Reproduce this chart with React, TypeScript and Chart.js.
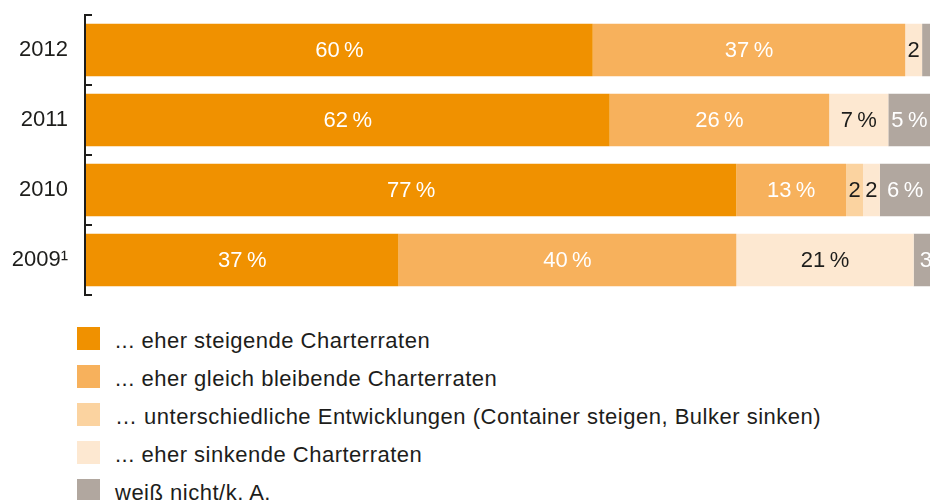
import React, { useEffect, useRef } from "react";
import { Chart, registerables } from "chart.js";

Chart.register(...registerables);

const categories = ["2012", "2011", "2010", "2009\u00B9"];
const seriesNames = [
  "... eher steigende Charterraten",
  "... eher gleich bleibende Charterraten",
  "\u2026 unterschiedliche Entwicklungen (Container steigen, Bulker sinken)",
  "... eher sinkende Charterraten",
  "weiß nicht/k. A.",
];
const rising = [60, 62, 77, 37];
const steady = [37, 26, 13, 40];
const mixed = [0, 0, 2, 0];
const falling = [2, 7, 2, 21];
const unknown = [1, 5, 6, 3];
const xMax = 101;

const seriesValues = [rising, steady, mixed, falling, unknown];
const colors = ["#F09100", "#F7B15C", "#FBD3A0", "#FDE8D1", "#B1A79F"];
const labelColors = ["#ffffff", "#ffffff", "#1d1d1b", "#1d1d1b", "#ffffff"];
const FONT = "'Liberation Sans', Arial, Helvetica, sans-serif";
const TEXT = "#1d1d1b";

const segmentLabels = {
  id: "segmentLabels",
  afterDatasetsDraw(chart: any) {
    const ctx = chart.ctx;
    ctx.save();
    ctx.font = `22px ${FONT}`;
    ctx.textBaseline = "middle";
    chart.data.datasets.forEach((ds: any, di: number) => {
      const meta = chart.getDatasetMeta(di);
      meta.data.forEach((el: any, i: number) => {
        const v = ds.data[i];
        if (!v) return;
        const left = Math.min(el.x, el.base);
        const w = Math.abs(el.x - el.base);
        if (w < 12) return;
        const txt = w < 22 ? String(v) : `${v}\u2009%`;
        const tw = ctx.measureText(txt).width;
        ctx.fillStyle = labelColors[di];
        if (tw + 2 > w) {
          ctx.textAlign = "left";
          ctx.fillText(txt, left + 6, el.y + 1);
        } else {
          ctx.textAlign = "center";
          ctx.fillText(txt, left + w / 2, el.y + 1);
        }
      });
    });
    ctx.restore();
  },
};

const bracket = {
  id: "bracket",
  afterDraw(chart: any) {
    const { ctx, chartArea } = chart;
    const y = chart.scales.y;
    const n = chart.data.labels.length;
    const ys: number[] = [chartArea.top];
    for (let i = 0; i < n - 1; i++) {
      ys.push((y.getPixelForValue(i) + y.getPixelForValue(i + 1)) / 2);
    }
    ys.push(chartArea.bottom);
    const x = chartArea.left - 1;
    ctx.save();
    ctx.strokeStyle = "#1d1d1b";
    ctx.lineWidth = 2;
    ctx.beginPath();
    ctx.moveTo(x, ys[0] - 1);
    ctx.lineTo(x, ys[ys.length - 1] + 1);
    ys.forEach((yy) => {
      ctx.moveTo(x - 1, yy);
      ctx.lineTo(chartArea.left + 6, yy);
    });
    ctx.stroke();
    ctx.restore();
  },
};

export default function App() {
  const ref = useRef<HTMLCanvasElement | null>(null);

  useEffect(() => {
    document.body.style.margin = "0";
    if (!ref.current) return;
    const chart = new Chart(ref.current, {
      type: "bar",
      data: {
        labels: categories,
        datasets: seriesValues.map((vals, i) => ({
          label: seriesNames[i],
          data: vals,
          backgroundColor: colors[i],
          borderWidth: 0,
          barPercentage: 0.75,
          categoryPercentage: 1,
        })),
      },
      options: {
        indexAxis: "y",
        responsive: false,
        animation: false,
        layout: { padding: { top: 15, bottom: 5, left: 0, right: 0 } },
        plugins: {
          legend: { display: false },
          tooltip: { enabled: false },
        },
        scales: {
          x: {
            stacked: true,
            display: false,
            min: 0,
            max: xMax,
          },
          y: {
            stacked: true,
            grid: { display: false, drawTicks: false },
            border: { display: false },
            ticks: {
              padding: 18,
              color: TEXT,
              font: { family: FONT, size: 22 },
            },
            afterFit: (scale: any) => {
              scale.width = 86;
              scale.paddingTop = 0;
              scale.paddingBottom = 0;
            },
          },
        },
      },
      plugins: [segmentLabels, bracket],
    } as any);
    return () => chart.destroy();
  }, []);

  return (
    <div
      style={{
        position: "relative",
        width: 930,
        height: 500,
        overflow: "hidden",
        background: "#ffffff",
        fontFamily: FONT,
      }}
    >
      <style>{"body{margin:0}"}</style>
      <canvas
        ref={ref}
        width={939}
        height={300}
        style={{ position: "absolute", left: 0, top: 0, width: 939, height: 300, display: "block" }}
      />
      {seriesNames.map((name, i) => (
        <div
          key={name}
          style={{
            position: "absolute",
            left: 77,
            top: 327 + i * 38,
            display: "flex",
            alignItems: "flex-start",
            whiteSpace: "nowrap",
          }}
        >
          <div style={{ width: 23, height: 23, background: colors[i], flex: "0 0 auto" }} />
          <span
            style={{
              marginLeft: 15,
              fontSize: 22,
              lineHeight: "23px",
              letterSpacing: "0.5px",
              color: TEXT,
              position: "relative",
              top: 2,
            }}
          >
            {name}
          </span>
        </div>
      ))}
    </div>
  );
}
